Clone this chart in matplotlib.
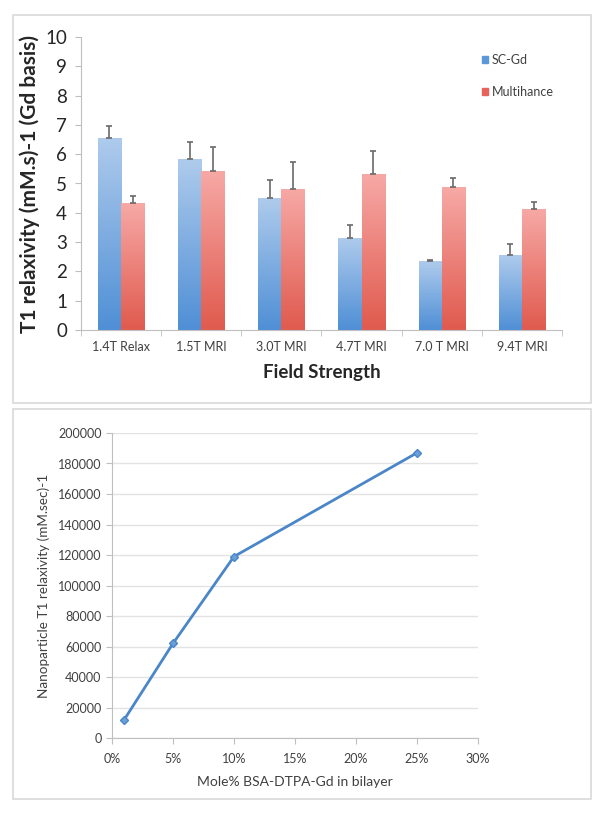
#! /usr/bin/env python3

import numpy as np
import matplotlib
matplotlib.use('Agg')
import matplotlib.pyplot as plt
from matplotlib.patches import Rectangle
from matplotlib.ticker import FuncFormatter

plt.rcParams['font.family'] = ['Lato', 'DejaVu Sans']

# top panel data
fields = ['1.4T Relax', '1.5T MRI', '3.0T MRI', '4.7T MRI', '7.0 T MRI', '9.4T MRI']
sc_gd = [6.55, 5.82, 4.50, 3.15, 2.35, 2.55]
sc_gd_err = [0.42, 0.58, 0.62, 0.45, 0.03, 0.38]
multihance = [4.33, 5.43, 4.82, 5.33, 4.87, 4.13]
multihance_err = [0.24, 0.80, 0.91, 0.79, 0.31, 0.25]

# bottom panel data
mole_pct = [0.01, 0.05, 0.10, 0.25]
relaxivity = [12000, 62000, 119000, 187000]

W, H = 604, 813
fig = plt.figure(figsize=(W / 100, H / 100), dpi=100)

def fbox(x0, y0, x1, y1):
    # pixel box -> figure fraction [left, bottom, width, height]
    return [x0 / W, 1 - y1 / H, (x1 - x0) / W, (y1 - y0) / H]

# panel borders
for (x0, y0, x1, y1) in [(13, 15, 591, 403), (13, 409, 591, 799)]:
    fig.patches.append(Rectangle((x0 / W, 1 - y1 / H), (x1 - x0) / W, (y1 - y0) / H,
                                 transform=fig.transFigure, fill=False,
                                 edgecolor='#d9d9d9', linewidth=1.2))

def gradient_bars(ax, xs, heights, width, top_col, bot_col):
    bars = ax.bar(xs, heights, width, color='none', edgecolor='none', zorder=2)
    grad = np.linspace(0, 1, 256).reshape(-1, 1)
    cmap = matplotlib.colors.LinearSegmentedColormap.from_list('g', [bot_col, top_col])
    for b in bars:
        x, y = b.get_x(), b.get_y()
        im = ax.imshow(grad, extent=(x, x + b.get_width(), y, y + b.get_height()),
                       origin='lower', cmap=cmap, aspect='auto', zorder=2)
        im.set_clip_path(b)
    return bars

# ---- top: bar chart ----
ax = fig.add_axes(fbox(81, 37, 562, 330))
x = np.arange(len(fields))
w = 0.29
gradient_bars(ax, x - w / 2, sc_gd, w, '#aecbec', '#4f8fd6')
gradient_bars(ax, x + w / 2, multihance, w, '#f7a9a6', '#e05a4e')
ax.errorbar(x - w / 2, sc_gd, yerr=[np.zeros(len(x)), sc_gd_err], fmt='none',
            ecolor='#6a6a6a', elinewidth=1.2, capsize=2.5, capthick=1.2, zorder=3)
ax.errorbar(x + w / 2, multihance, yerr=[np.zeros(len(x)), multihance_err], fmt='none',
            ecolor='#6a6a6a', elinewidth=1.2, capsize=2.5, capthick=1.2, zorder=3)
ax.set_xlim(-0.5, len(fields) - 0.5)
ax.set_ylim(0, 10)
ax.set_yticks(range(0, 11))
ax.tick_params(axis='y', labelsize=13.5, length=4, color='#bfbfbf', labelcolor='#262626', pad=6)
ax.set_xticks(x)
ax.set_xticklabels(fields)
ax.set_xticks(np.arange(len(fields) + 1) - 0.5, minor=True)
ax.tick_params(axis='x', which='major', length=0, labelsize=9, labelcolor='#404040', pad=8)
ax.tick_params(axis='x', which='minor', length=4, color='#bfbfbf')
for s in ['top', 'right']:
    ax.spines[s].set_visible(False)
for s in ['left', 'bottom']:
    ax.spines[s].set_color('#bfbfbf')
ax.set_ylabel('T1 relaxivity (mM.s)-1 (Gd basis)', fontsize=15, fontweight='bold',
              color='#262626', labelpad=4)
ax.set_xlabel('Field Strength', fontsize=13.5, fontweight='bold', color='#262626', labelpad=8)
h1 = Rectangle((0, 0), 1, 1, color='#5b97d9')
h2 = Rectangle((0, 0), 1, 1, color='#e8615a')
ax.legend([h1, h2], ['SC-Gd', 'Multihance'], loc='upper left', bbox_to_anchor=(0.81, 0.98),
          frameon=False, fontsize=9, handlelength=0.5, handleheight=0.5,
          handletextpad=0.3, labelspacing=1.6, labelcolor='#404040')

# ---- bottom: line chart ----
ax2 = fig.add_axes(fbox(112, 433, 478, 738))
ax2.plot(mole_pct, relaxivity, color='#4a86c8', linewidth=2, marker='D',
         markersize=4.5, markerfacecolor='#6b9fd8', markeredgecolor='#4a86c8', zorder=3)
ax2.set_xlim(0, 0.30)
ax2.set_ylim(0, 200000)
ax2.set_xticks(np.arange(0, 0.31, 0.05))
ax2.set_yticks(np.arange(0, 200001, 20000))
ax2.xaxis.set_major_formatter(FuncFormatter(lambda v, p: '%d%%' % round(v * 100)))
ax2.yaxis.grid(True, color='#e3e3e3', linewidth=1)
ax2.set_axisbelow(True)
ax2.tick_params(labelsize=9, labelcolor='#404040', color='#bfbfbf', length=4)
ax2.tick_params(axis='x', pad=7)
for s in ['top', 'right']:
    ax2.spines[s].set_visible(False)
for s in ['left', 'bottom']:
    ax2.spines[s].set_color('#bfbfbf')
ax2.set_ylabel('Nanoparticle T1 relaxivity (mM.sec)-1', fontsize=9.7, color='#404040', labelpad=6)
ax2.set_xlabel('Mole% BSA-DTPA-Gd in bilayer', fontsize=10, color='#404040', labelpad=8)

fig.savefig('out.png', dpi=100)
plt.close('all')
